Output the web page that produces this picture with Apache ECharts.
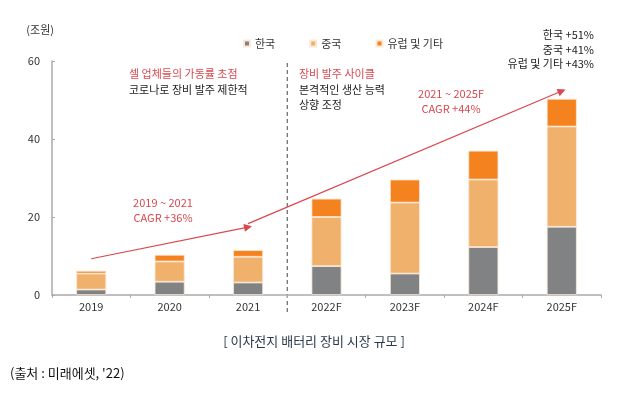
<!DOCTYPE html>
<html><head><meta charset="utf-8">
<script src="https://cdn.jsdelivr.net/npm/echarts@6/dist/echarts.min.js"></script>
<style>html,body{margin:0;padding:0;background:#fff}#c{width:624px;height:396px}</style>
</head><body><div id="c"></div>
<script>
const categories = ['2019','2020','2021','2022F','2023F','2024F','2025F'];
const korea  = [1.4, 3.4, 3.2, 7.4, 5.5, 12.3, 17.5];
const china  = [4.1, 5.2, 6.6, 12.6, 18.2, 17.3, 25.7];
const europe = [0.7, 1.7, 1.7, 4.7, 5.9, 7.4, 7.1];
const seriesNames = ['한국','중국','유럽 및 기타'];
const yTicks = [0, 20, 40, 60];
const arrow1 = [[0, 9.3], [2, 17.4]];
const arrow2 = [[2.03, 18.3], [5.9, 52.3]];

const FONT = "'Noto Sans CJK KR','Noto Sans',sans-serif";
const RED = '#d9474f';
const chart = echarts.init(document.getElementById('c'));
const barStyle = c => ({color: c, borderColor: '#fbe9d6', borderWidth: 0.8});
chart.setOption({
  animation: false,
  textStyle: {fontFamily: FONT},
  grid: {left: 52, right: 23, top: 61, bottom: 101},
  legend: {
    data: seriesNames, left: 238, top: 33, icon: 'rect', itemWidth: 6, itemHeight: 6,
    itemGap: 34, textStyle: {fontSize: 11, color: '#333', fontFamily: FONT}
  },
  xAxis: {
    type: 'category', data: categories,
    axisLine: {lineStyle: {color: '#aaa', width: 1.5}},
    axisTick: {show: true, length: 3, lineStyle: {color: '#aaa'}},
    axisLabel: {fontSize: 11, color: '#333', margin: 6}
  },
  yAxis: {
    type: 'value', min: yTicks[0], max: yTicks[yTicks.length-1], interval: 20,
    name: '(조원)', nameLocation: 'end', nameGap: 26,
    nameTextStyle: {fontSize: 11, color: '#333', align: 'right', padding: [0, -2, 0, 0]},
    axisLine: {show: true, lineStyle: {color: '#aaa', width: 1.5}},
    axisTick: {show: true, inside: true, length: 3, lineStyle: {color: '#aaa'}},
    splitLine: {show: false},
    axisLabel: {fontSize: 11, color: '#333', margin: 12}
  },
  series: [
    {name: seriesNames[0], type: 'bar', stack: 's', data: korea, barWidth: 30, itemStyle: barStyle('#808284'),
     markLine: {silent: true, symbol: ['none','triangle'], symbolSize: [8, 8], label: {show: false},
       lineStyle: {color: RED, width: 1.2, type: 'solid'},
       data: [
         [{coord: arrow1[0]}, {coord: arrow1[1]}],
         [{coord: arrow2[0]}, {coord: arrow2[1]}]
       ]}},
    {name: seriesNames[1], type: 'bar', stack: 's', data: china, itemStyle: barStyle('#f0b16c')},
    {name: seriesNames[2], type: 'bar', stack: 's', data: europe, itemStyle: barStyle('#f3821f')}
  ]
});

const x2 = chart.convertToPixel({gridIndex: 0}, [2, 0]);
const x3 = chart.convertToPixel({gridIndex: 0}, [3, 0]);
const y60 = chart.convertToPixel({gridIndex: 0}, [0, 60]);
const divX = (x2[0] + x3[0]) / 2;

function txt(x, y, s, color, align, size, weight) {
  return {type: 'text', x: x, y: y, style: {text: s, fill: color, font: (weight||'normal') + ' ' + (size||11) + 'px ' + FONT, textAlign: align || 'left', textVerticalAlign: 'middle'}};
}
chart.setOption({
  graphic: [
    {type: 'line', shape: {x1: divX, y1: y60[1] + 2, x2: divX, y2: 315}, style: {stroke: '#666', lineWidth: 1.2, lineDash: [4, 3]}},
    txt(129, 74, '셀 업체들의 가동률 초점', RED),
    txt(129, 90, '코로나로 장비 발주 제한적', '#222'),
    txt(299, 74, '장비 발주 사이클', RED),
    txt(299, 90, '본격적인 생산 능력', '#222'),
    txt(299, 105, '상향 조정', '#222'),
    txt(451, 94, '2021 ~ 2025F', RED, 'center'),
    txt(451, 109, 'CAGR +44%', RED, 'center'),
    txt(163, 203, '2019 ~ 2021', RED, 'center'),
    txt(163, 218, 'CAGR +36%', RED, 'center'),
    txt(594, 35, '한국 +51%', '#222', 'right'),
    txt(594, 50, '중국 +41%', '#222', 'right'),
    txt(594, 64, '유럽 및 기타 +43%', '#222', 'right'),
    txt(314, 341, '[ 이차전지 배터리 장비 시장 규모 ]', '#2b3a4a', 'center', 13),
    txt(10, 373, "(출처 : 미래에셋, '22)", '#111', 'left', 13)
  ]
});
</script></body></html>
